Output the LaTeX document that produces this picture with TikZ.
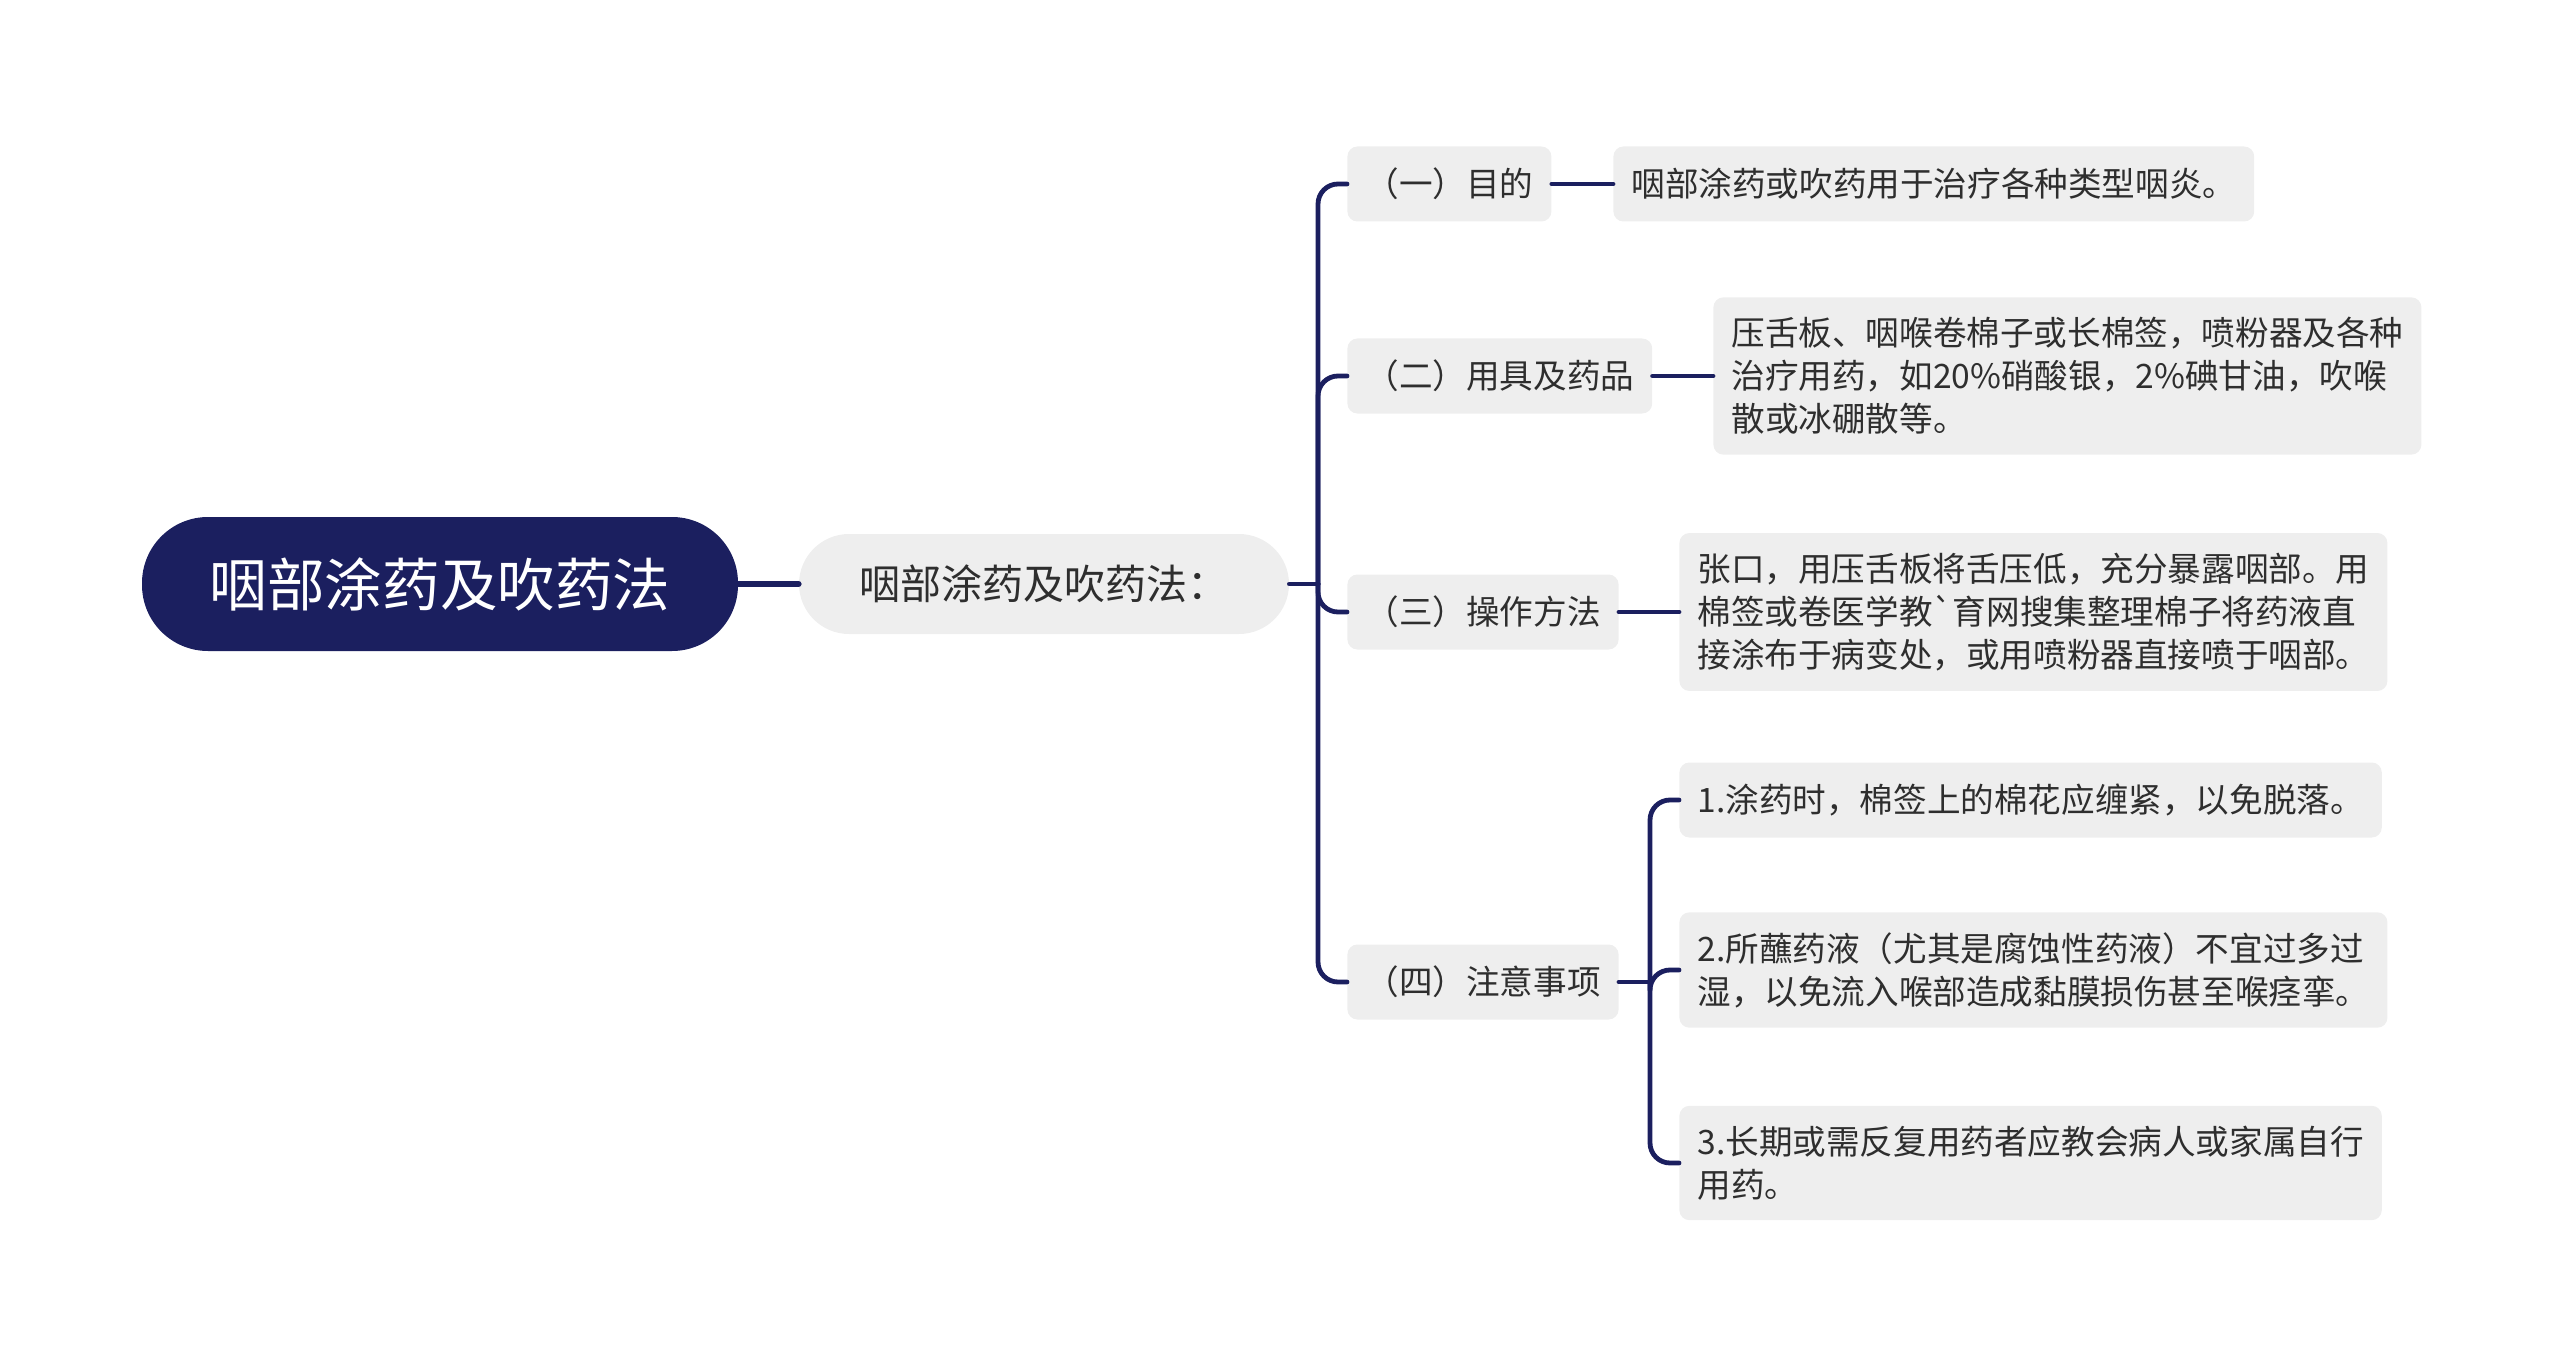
\documentclass[tikz,border=0pt]{standalone}
\usepackage{fontspec}
\newfontfamily\cjk{Noto Sans CJK SC}
\usetikzlibrary{positioning}
\definecolor{navy}{HTML}{1B1F5F}
\definecolor{boxgray}{HTML}{EEEEEE}
\definecolor{txtgray}{HTML}{2E2E2E}

\begin{document}
\begin{tikzpicture}[x=0.5pt,y=-0.5pt,line cap=round,line join=round,
  rootbox/.style={fill=navy,text=white,rounded corners=33pt,minimum width=298pt,minimum height=67pt,font=\cjk\fontsize{28.8pt}{34pt}\selectfont},
  topicbox/.style={fill=boxgray,text=txtgray,rounded corners=25pt,minimum width=245pt,minimum height=50pt,font=\cjk\fontsize{20.5pt}{25pt}\selectfont},
  itembox/.style={fill=boxgray,text=txtgray,rounded corners=5pt,inner xsep=9pt,inner ysep=10pt,minimum height=37.5pt,anchor=west,align=left,font=\cjk\fontsize{16.8pt}{21.5pt}\selectfont},
  link/.style={draw=navy,line width=2.4pt,rounded corners=10pt}]
\useasboundingbox (0,0) rectangle (2560,1364);
\node[rootbox] (root) at (440,584) {咽部涂药及吹药法};
\node[topicbox] (topic) at (1044,584) {咽部涂药及吹药法：};
\node[itembox] (aim) at (1347,184) {（一）目的};
\node[itembox] (tool) at (1347,376) {（二）用具及药品};
\node[itembox] (oper) at (1347,612) {（三）操作方法};
\node[itembox] (note) at (1347,982) {（四）注意事项};
\node[itembox] (aimtxt) at (1613,184) {咽部涂药或吹药用于治疗各种类型咽炎。};
\node[itembox] (tooltxt) at (1713,376) {压舌板、咽喉卷棉子或长棉签，喷粉器及各种\\治疗用药，如20\%硝酸银，2\%碘甘油，吹喉\\散或冰硼散等。};
\node[itembox] (opertxt) at (1679,612) {张口，用压舌板将舌压低，充分暴露咽部。用\\棉签或卷医学教{\char"60}育网搜集整理棉子将药液直\\接涂布于病变处，或用喷粉器直接喷于咽部。};
\node[itembox] (noteA) at (1679,800) {1.涂药时，棉签上的棉花应缠紧，以免脱落。};
\node[itembox] (noteB) at (1679,970) {2.所蘸药液（尤其是腐蚀性药液）不宜过多过\\湿，以免流入喉部造成黏膜损伤甚至喉痉挛。};
\node[itembox] (noteC) at (1679,1163) {3.长期或需反复用药者应教会病人或家属自行\\用药。};
% connectors
\draw[link,line width=3pt] (root.east) -- (topic.west);
\coordinate (hub) at (1318,584);
\draw[link] (topic.east) -- (hub);
\foreach \k in {aim,tool,oper,note}
\draw[link] (hub) |- (\k.west);
\draw[link] (aim.east) -- (aimtxt.west);
\draw[link] (tool.east) -- (tooltxt.west);
\draw[link] (oper.east) -- (opertxt.west);
\coordinate (notehub) at (1650,982);
\draw[link] (note.east) -- (notehub);
\foreach \k in {noteA,noteB,noteC}
\draw[link] (notehub) |- (\k.west);
\end{tikzpicture}
\end{document}
